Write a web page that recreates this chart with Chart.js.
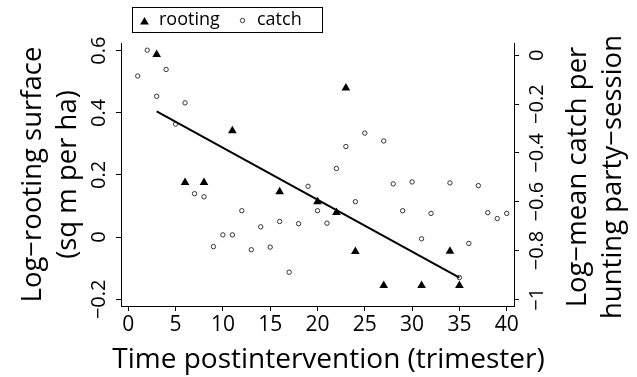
<!DOCTYPE html>
<html>
<head>
<meta charset="utf-8">
<script src="https://cdn.jsdelivr.net/npm/chart.js@4/dist/chart.umd.min.js"></script>
<style>
  html, body { margin: 0; padding: 0; background: #fff; }
  #c { display: block; }
</style>
</head>
<body>
<canvas id="c" width="637" height="377"></canvas>
<script>
// ---- data ----
const rootX = [3, 6, 8, 11, 16, 20, 22, 23, 24, 27, 31, 34, 35];
const rootY = [0.588, 0.176, 0.176, 0.342, 0.146, 0.114, 0.079, 0.480, -0.046, -0.156, -0.156, -0.045, -0.156];

const catchX = [1, 2, 3, 4, 5, 6, 7, 8, 9, 10, 11, 12, 13, 14, 15, 16, 17, 18, 19, 20, 21, 22, 23, 24, 25, 27, 28, 29, 30, 31, 32, 34, 35, 36, 37, 38, 39, 40];
const catchY = [-0.085, 0.021, -0.168, -0.058, -0.282, -0.195, -0.567, -0.580, -0.784, -0.736, -0.736, -0.637, -0.797, -0.703, -0.786, -0.681, -0.889, -0.690, -0.537, -0.637, -0.688, -0.464, -0.374, -0.600, -0.319, -0.351, -0.527, -0.637, -0.519, -0.752, -0.648, -0.523, -0.911, -0.771, -0.534, -0.645, -0.669, -0.648];

const fitX = [3, 35];
const fitY = [0.405, -0.130];

const xTicks = [0, 5, 10, 15, 20, 25, 30, 35, 40];
const leftTicks = [-0.2, 0, 0.2, 0.4, 0.6];
const rightTicks = [-1, -0.8, -0.6, -0.4, -0.2, 0];

const xTitle = 'Time postintervention (trimester)';
const leftTitle = ['Log\u2212rooting surface', '(sq m per ha)'];
const rightTitle = ['Log\u2212mean catch per', 'hunting party\u2212session'];
const legendLabels = ['rooting', 'catch'];

// ---- helpers ----
const FONT = "'Open Sans', 'Noto Sans', sans-serif";
const fmt = v => (v < 0 ? '\u2212' : '') + String(Math.abs(Math.round(v * 10) / 10));
const pts = (xs, ys) => xs.map((x, i) => ({ x: x, y: ys[i] }));
const setTicks = arr => scale => { scale.ticks = arr.map(v => ({ value: v })); };

Chart.defaults.font.family = FONT;
Chart.defaults.color = '#000';

const extras = {
  id: 'extras',
  afterDraw(chart) {
    const ctx = chart.ctx;
    const r = chart.scales.y2;
    const xs = chart.scales.x;
    ctx.save();
    ctx.fillStyle = '#000';
    // x axis title
    ctx.font = "28px " + FONT;
    ctx.textAlign = 'center';
    ctx.textBaseline = 'alphabetic';
    ctx.fillText(xTitle, (xs.left + xs.right) / 2 + 11, xs.top + 62);
    // right axis title (reads bottom to top)
    ctx.font = "27.5px " + FONT;
    ctx.textBaseline = 'middle';
    ctx.translate(r.left + 64.5, (chart.chartArea.top + chart.chartArea.bottom) / 2 + 2.5);
    ctx.rotate(-Math.PI / 2);
    rightTitle.forEach((t, i) => ctx.fillText(t, 0, i * 35));
    ctx.restore();

    // legend box
    ctx.save();
    ctx.strokeStyle = '#000';
    ctx.lineWidth = 1;
    ctx.strokeRect(132.5, 7.5, 190, 25);
    ctx.fillStyle = '#000';
    Chart.helpers.drawPoint(ctx, { pointStyle: 'triangle', radius: 5, borderWidth: 0 }, 144.5, 22);
    ctx.strokeStyle = '#333';
    ctx.fillStyle = '#fff';
    ctx.lineWidth = 1;
    Chart.helpers.drawPoint(ctx, { pointStyle: 'circle', radius: 2.2, borderWidth: 1 }, 242.5, 20.5);
    ctx.fillStyle = '#000';
    ctx.font = "18px " + FONT;
    ctx.textAlign = 'left';
    ctx.textBaseline = 'middle';
    ctx.fillText(legendLabels[0], 159, 19.5);
    ctx.fillText(legendLabels[1], 257, 19.5);
    ctx.restore();
  }
};

new Chart(document.getElementById('c'), {
  type: 'scatter',
  data: {
    datasets: [
      {
        label: 'fit',
        type: 'line',
        data: pts(fitX, fitY),
        yAxisID: 'y',
        borderColor: '#000',
        borderWidth: 2,
        pointRadius: 0,
        fill: false,
        order: 1
      },
      {
        label: legendLabels[0],
        data: pts(rootX, rootY),
        yAxisID: 'y',
        pointStyle: 'triangle',
        pointRadius: 5,
        backgroundColor: '#000',
        borderColor: '#000',
        borderWidth: 0,
        order: 0
      },
      {
        label: legendLabels[1],
        data: pts(catchX, catchY),
        yAxisID: 'y2',
        pointStyle: 'circle',
        pointRadius: 2.2,
        backgroundColor: 'rgba(255,255,255,0)',
        borderColor: '#333',
        borderWidth: 1,
        order: 2
      }
    ]
  },
  options: {
    responsive: false,
    animation: false,
    devicePixelRatio: 1,
    layout: { padding: { top: 43, left: 0, right: 0, bottom: 0 } },
    plugins: { legend: { display: false }, tooltip: { enabled: false } },
    scales: {
      x: {
        type: 'linear',
        position: 'bottom',
        min: -0.77,
        max: 40.77,
        afterBuildTicks: setTicks(xTicks),
        afterFit: s => { s.height = 71; },
        grid: { drawOnChartArea: false, drawTicks: true, tickLength: 5, color: '#000', lineWidth: 1 },
        border: { display: true, color: '#000', width: 1 },
        ticks: { font: { size: 21 }, padding: 1, maxRotation: 0, autoSkip: false, callback: v => fmt(v) },
        title: { display: false }
      },
      y: {
        type: 'linear',
        position: 'left',
        min: -0.2216,
        max: 0.6248,
        afterBuildTicks: setTicks(leftTicks),
        afterFit: s => { s.width = 121; },
        grid: { drawOnChartArea: false, drawTicks: true, tickLength: 5, color: '#000', lineWidth: 1 },
        border: { display: true, color: '#000', width: 1 },
        ticks: { font: { size: 20 }, minRotation: 90, maxRotation: 90, crossAlign: 'center', padding: -3, autoSkip: false, callback: v => fmt(v) },
        title: { display: true, text: leftTitle, font: { size: 27.5, lineHeight: 1.27 }, padding: { top: 16, bottom: 0 } }
      },
      y2: {
        type: 'linear',
        position: 'right',
        min: -1.0275,
        max: 0.0504,
        afterBuildTicks: setTicks(rightTicks),
        afterFit: s => { s.width = 123; },
        grid: { drawOnChartArea: false, drawTicks: true, tickLength: 5, color: '#000', lineWidth: 1 },
        border: { display: true, color: '#000', width: 1 },
        ticks: { font: { size: 20 }, minRotation: 90, maxRotation: 90, crossAlign: 'center', padding: -1, autoSkip: false, callback: v => fmt(v) },
        title: { display: false }
      }
    }
  },
  plugins: [extras]
});
</script>
</body>
</html>
